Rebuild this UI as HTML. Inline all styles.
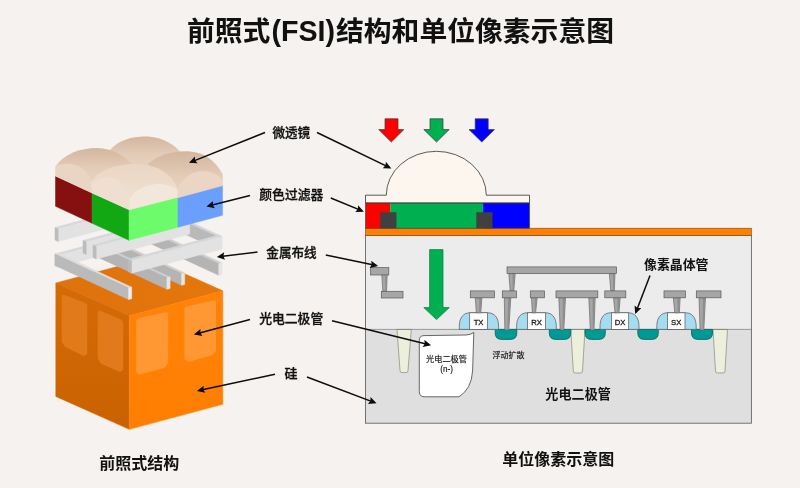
<!DOCTYPE html>
<html lang="zh-CN"><head><meta charset="utf-8"><title>前照式(FSI)结构和单位像素示意图</title>
<style>html,body{margin:0;padding:0;background:#f5f2ef;}body{width:800px;height:488px;overflow:hidden;font-family:"Liberation Sans", "Noto Sans CJK SC", sans-serif;}svg{display:block;will-change:transform;transform:translateZ(0)}</style>
</head><body>
<svg width="800" height="488" viewBox="0 0 800 488" font-family='&quot;Liberation Sans&quot;, &quot;Noto Sans CJK SC&quot;, sans-serif'>
<defs>
<marker id="ah" viewBox="0 0 10 10" refX="7.5" refY="5" markerWidth="9" markerHeight="7.8" markerUnits="userSpaceOnUse" orient="auto"><path d="M0,0.3 L10,5 L0,9.7 L1.6,5 Z" fill="#0d0d0d"/></marker>
<linearGradient id="gTop" x1="0" y1="0" x2="1" y2="0"><stop offset="0" stop-color="#de720d"/><stop offset="1" stop-color="#e5760a"/></linearGradient>
<linearGradient id="gLeft" x1="0" y1="0" x2="0" y2="1"><stop offset="0" stop-color="#d46b06"/><stop offset="1" stop-color="#ca6201"/></linearGradient>
<linearGradient id="gRight" x1="0" y1="0" x2="0" y2="1"><stop offset="0" stop-color="#ff8309"/><stop offset="1" stop-color="#ff7e00"/></linearGradient>
<linearGradient id="gLensD" x1="0" y1="0" x2="0" y2="1"><stop offset="0" stop-color="#d3b69e"/><stop offset="0.55" stop-color="#e4ccb7"/><stop offset="1" stop-color="#e8d3c0"/></linearGradient>
<linearGradient id="gLensF" x1="0" y1="0" x2="0" y2="1"><stop offset="0" stop-color="#ead6c4"/><stop offset="0.5" stop-color="#eedccc"/><stop offset="1" stop-color="#f0e0d2"/></linearGradient>
</defs>
<rect width="800" height="488" fill="#f5f2ef"/>
<text x="187" y="40.8" font-size="27.8" font-weight="700" text-anchor="start" fill="#111">前照式</text>
<text x="303.3" y="40.8" font-size="28.6" font-weight="700" text-anchor="middle" fill="#111">(FSI)</text>
<text x="614" y="40.8" font-size="27.8" font-weight="700" text-anchor="end" fill="#111">结构和单位像素示意图</text>
<polygon points="55.80,283.00 129.30,315.85 222.80,290.80 149.30,257.94" fill="url(#gTop)" stroke="url(#gTop)" stroke-width="0.5" stroke-linejoin="round" />
<polygon points="55.80,283.00 129.30,315.85 129.30,429.35 55.80,396.50" fill="url(#gLeft)" stroke="url(#gLeft)" stroke-width="0.5" stroke-linejoin="round" />
<polygon points="129.30,315.85 222.80,290.80 222.80,404.30 129.30,429.35" fill="url(#gRight)" stroke="url(#gRight)" stroke-width="0.5" stroke-linejoin="round" />
<path d="M61.70,297.00 Q61.70,294.00 64.51,295.06 L84.39,302.54 Q87.20,303.60 87.20,306.60 L87.20,354.10 L83.96,356.13 L64.94,346.87 L61.70,341.70 Z" fill="#e17a1a"/>
<path d="M97.70,312.70 Q97.70,309.70 100.46,310.87 L120.44,319.33 Q123.20,320.50 123.20,323.50 L123.20,369.90 L119.91,372.04 L100.99,363.66 L97.70,358.60 Z" fill="#e17a1a"/>
<path d="M136.20,321.70 Q136.20,318.70 139.13,318.04 L165.27,312.16 Q168.20,311.50 168.20,314.50 L168.20,363.10 L164.73,367.67 L139.67,374.73 L136.20,372.10 Z" fill="#ff9732"/>
<path d="M184.40,310.00 Q184.40,307.00 187.32,306.33 L212.98,300.47 Q215.90,299.80 215.90,302.80 L215.90,350.70 L212.43,355.25 L187.87,361.95 L184.40,359.30 Z" fill="#ff9732"/>
<polygon points="145.30,229.80 148.50,228.94 222.00,262.97 218.80,263.83" fill="#cfcfcf" stroke="#cfcfcf" stroke-width="0.5" stroke-linejoin="round" />
<polygon points="145.30,229.80 218.80,263.83 218.80,275.33 145.30,241.30" fill="#b4b4b4" stroke="#b4b4b4" stroke-width="0.5" stroke-linejoin="round" />
<polygon points="218.80,263.83 222.00,262.97 222.00,274.47 218.80,275.33" fill="#e6e6e6" stroke="#e6e6e6" stroke-width="0.5" stroke-linejoin="round" />
<polygon points="108.00,239.80 111.20,238.94 184.70,272.97 181.50,273.83" fill="#cfcfcf" stroke="#cfcfcf" stroke-width="0.5" stroke-linejoin="round" />
<polygon points="108.00,239.80 181.50,273.83 181.50,285.33 108.00,251.30" fill="#b4b4b4" stroke="#b4b4b4" stroke-width="0.5" stroke-linejoin="round" />
<polygon points="181.50,273.83 184.70,272.97 184.70,284.47 181.50,285.33" fill="#e6e6e6" stroke="#e6e6e6" stroke-width="0.5" stroke-linejoin="round" />
<polygon points="93.40,243.71 96.60,242.85 170.10,276.88 166.90,277.74" fill="#cfcfcf" stroke="#cfcfcf" stroke-width="0.5" stroke-linejoin="round" />
<polygon points="93.40,243.71 166.90,277.74 166.90,289.24 93.40,255.21" fill="#b4b4b4" stroke="#b4b4b4" stroke-width="0.5" stroke-linejoin="round" />
<polygon points="166.90,277.74 170.10,276.88 170.10,288.38 166.90,289.24" fill="#e6e6e6" stroke="#e6e6e6" stroke-width="0.5" stroke-linejoin="round" />
<polygon points="55.00,254.00 148.50,228.94 151.70,230.42 58.20,255.48" fill="#d6d6d6" stroke="#d6d6d6" stroke-width="0.5" stroke-linejoin="round" />
<polygon points="58.20,255.48 151.70,230.42 151.70,241.92 58.20,266.98" fill="#e2e2e2" stroke="#e2e2e2" stroke-width="0.5" stroke-linejoin="round" />
<polygon points="55.00,254.00 58.20,255.48 58.20,266.98 55.00,265.50" fill="#bcbcbc" stroke="#bcbcbc" stroke-width="0.5" stroke-linejoin="round" />
<polygon points="55.00,254.00 58.20,253.14 131.70,287.17 128.50,288.03" fill="#dedede" stroke="#dedede" stroke-width="0.5" stroke-linejoin="round" />
<polygon points="55.00,254.00 128.50,288.03 128.50,299.53 55.00,265.50" fill="#bababa" stroke="#bababa" stroke-width="0.5" stroke-linejoin="round" />
<polygon points="128.50,288.03 131.70,287.17 131.70,298.67 128.50,299.53" fill="#ededed" stroke="#ededed" stroke-width="0.5" stroke-linejoin="round" />
<polygon points="55.00,227.50 148.50,202.44 151.70,203.92 58.20,228.98" fill="#d6d6d6" stroke="#d6d6d6" stroke-width="0.5" stroke-linejoin="round" />
<polygon points="58.20,228.98 151.70,203.92 151.70,216.42 58.20,241.48" fill="#e2e2e2" stroke="#e2e2e2" stroke-width="0.5" stroke-linejoin="round" />
<polygon points="55.00,227.50 58.20,228.98 58.20,241.48 55.00,240.00" fill="#bcbcbc" stroke="#bcbcbc" stroke-width="0.5" stroke-linejoin="round" />
<polygon points="83.00,240.46 143.00,224.38 146.20,225.87 86.20,241.95" fill="#d6d6d6" stroke="#d6d6d6" stroke-width="0.5" stroke-linejoin="round" />
<polygon points="86.20,241.95 146.20,225.87 146.20,238.37 86.20,254.45" fill="#e2e2e2" stroke="#e2e2e2" stroke-width="0.5" stroke-linejoin="round" />
<polygon points="83.00,240.46 86.20,241.95 86.20,254.45 83.00,252.96" fill="#bcbcbc" stroke="#bcbcbc" stroke-width="0.5" stroke-linejoin="round" />
<polygon points="183.30,220.89 186.50,220.04 222.00,236.47 218.80,237.33" fill="#d4d4d4" stroke="#d4d4d4" stroke-width="0.5" stroke-linejoin="round" />
<polygon points="183.30,220.89 218.80,237.33 218.80,249.83 183.30,233.39" fill="#b9b9b9" stroke="#b9b9b9" stroke-width="0.5" stroke-linejoin="round" />
<polygon points="218.80,237.33 222.00,236.47 222.00,248.97 218.80,249.83" fill="#e6e6e6" stroke="#e6e6e6" stroke-width="0.5" stroke-linejoin="round" />
<polygon points="93.00,245.09 186.50,220.04 189.70,221.52 96.20,246.58" fill="#d6d6d6" stroke="#d6d6d6" stroke-width="0.5" stroke-linejoin="round" />
<polygon points="96.20,246.58 189.70,221.52 189.70,234.02 96.20,259.08" fill="#e2e2e2" stroke="#e2e2e2" stroke-width="0.5" stroke-linejoin="round" />
<polygon points="93.00,245.09 96.20,246.58 96.20,259.08 93.00,257.59" fill="#bcbcbc" stroke="#bcbcbc" stroke-width="0.5" stroke-linejoin="round" />
<polygon points="128.30,259.24 218.80,234.99 222.00,236.47 131.50,260.73" fill="#d6d6d6" stroke="#d6d6d6" stroke-width="0.5" stroke-linejoin="round" />
<polygon points="131.50,260.73 222.00,236.47 222.00,248.97 131.50,273.23" fill="#e2e2e2" stroke="#e2e2e2" stroke-width="0.5" stroke-linejoin="round" />
<polygon points="128.30,259.24 131.50,260.73 131.50,273.23 128.30,271.74" fill="#bcbcbc" stroke="#bcbcbc" stroke-width="0.5" stroke-linejoin="round" />
<polygon points="55.50,176.30 92.00,193.20 92.00,223.20 55.50,206.30" fill="#861010" stroke="#861010" stroke-width="0.5" stroke-linejoin="round" />
<polygon points="92.00,193.20 129.00,210.33 129.00,240.33 92.00,223.20" fill="#12a814" stroke="#12a814" stroke-width="0.5" stroke-linejoin="round" />
<polygon points="129.00,210.33 178.00,197.20 178.00,227.20 129.00,240.33" fill="#6bfb6b" stroke="#6bfb6b" stroke-width="0.5" stroke-linejoin="round" />
<polygon points="178.00,197.20 222.50,185.27 222.50,215.27 178.00,227.20" fill="#6a9eff" stroke="#6a9eff" stroke-width="0.5" stroke-linejoin="round" />
<polygon points="55.5,166.5 100,150 190,152 222.5,174 222.5,185.3 129.5,209.3 55.5,176.3" fill="#e7d1bd"/>
<path d="M110,150 C120,138.5 136,135.8 148,136.6 C163,137.6 175,144.5 183,155 L150,170 L110,160 Z" fill="url(#gLensD)"/>
<path d="M55.5,166.5 C64,154 80,148 97,148 C112,148.5 124,155 133,166 L107,184 L60,172 Z" fill="url(#gLensD)"/>
<path d="M148,164 C158,155 172,151 188,151.2 C204,152 215,160 222.5,174 L222.5,186 L178,198 L150,182 Z" fill="url(#gLensD)"/>
<path d="M55.5,176.3 L55.5,166.5 C60,163.5 70,162.5 78,166 C86,169.5 90,176 92,184 L92,193.2 Z" fill="#e9d5c3"/>
<path d="M177,197.4 L177.5,188 C182,179 191,172 201,171 C211,170.5 218,174 222.5,180 L222.5,185.3 Z" fill="#ead6c3"/>
<path d="M90.5,183 C96,172 112,164.5 134,164 C154,164 170,171 177.5,188 L176,198 L129.5,210 L92,193 Z" fill="url(#gLensF)"/>
<path d="M92,193.2 L92,184 C96,179.5 104,176 112,177.5 C121,180.5 127,188 129.5,198 L129.5,209.3 Z" fill="#efdfd0"/>
<path d="M129.5,209.3 L129.5,198 C135,190 146,184.6 157,184 C167,183.8 173,186 177.5,190 L177.5,197.2 Z" fill="#f3e7dc"/>
<rect x="365.5" y="235.3" width="385.90" height="94.1" fill="#ececec"/>
<rect x="365.5" y="329.4" width="385.90" height="93.8" fill="#dfdfdf"/>
<path d="M397,329.4 H411.3 L408,370.6 Q408,372.6 406,372.6 H402 Q400,372.6 400,370.6 Z" fill="#ebefdb" stroke="#85887a" stroke-width="0.7"/>
<path d="M570.8,329.4 H585 L582.5,371 Q582.5,373 580.5,373 H575.3 Q573.3,373 573.3,371 Z" fill="#ebefdb" stroke="#85887a" stroke-width="0.7"/>
<path d="M713,329.4 H727.5 L725,371 Q725,373 723,373 H717.5 Q715.5,373 715.5,371 Z" fill="#ebefdb" stroke="#85887a" stroke-width="0.7"/>
<line x1="365.5" y1="329.4" x2="751.4" y2="329.4" stroke="#777" stroke-width="0.7"/>
<path d="M495.2,329.4 H516.8 V332.9 Q516.8,339.4 510.29999999999995,339.4 H501.7 Q495.2,339.4 495.2,332.9 Z" fill="#009a94" stroke="#00615e" stroke-width="0.8"/>
<path d="M549.3,329.4 H570.8 V332.9 Q570.8,339.4 564.3,339.4 H555.8 Q549.3,339.4 549.3,332.9 Z" fill="#009a94" stroke="#00615e" stroke-width="0.8"/>
<path d="M585,329.4 H605.3 V332.9 Q605.3,339.4 598.8,339.4 H591.5 Q585,339.4 585,332.9 Z" fill="#009a94" stroke="#00615e" stroke-width="0.8"/>
<path d="M637.8,329.4 H658.3 V332.9 Q658.3,339.4 651.8,339.4 H644.3 Q637.8,339.4 637.8,332.9 Z" fill="#009a94" stroke="#00615e" stroke-width="0.8"/>
<path d="M691.5,329.4 H712.5 V332.9 Q712.5,339.4 706.0,339.4 H698.0 Q691.5,339.4 691.5,332.9 Z" fill="#009a94" stroke="#00615e" stroke-width="0.8"/>
<path d="M419.3,340.5 Q419.3,335.6 424,335.6 L466,335 Q471.5,334.6 473.8,332.4 L472.6,371 Q471.5,389 459,396.8 L424.5,396.8 Q419.3,396.8 419.3,391.5 Z" fill="#ffffff" stroke="#444" stroke-width="0.8"/>
<rect x="365.5" y="235.3" width="385.90" height="187.9" fill="none" stroke="#666" stroke-width="0.9"/>
<rect x="365.5" y="228.2" width="385.90" height="7.1" fill="#ff8000" stroke="#7a4a10" stroke-width="0.6"/>
<rect x="365.5" y="203" width="24.7" height="25.2" fill="#ff0000"/>
<rect x="390.2" y="203" width="92.9" height="25.2" fill="#00b050"/>
<rect x="483.1" y="203" width="46.4" height="25.2" fill="#0000ff"/>
<rect x="365.5" y="203" width="164" height="25.2" fill="none" stroke="#444" stroke-width="0.7"/>
<rect x="380.2" y="212.2" width="16.2" height="16" fill="#404040"/>
<rect x="476.3" y="212.2" width="16.2" height="16" fill="#404040"/>
<path d="M365.5,202.8 V195.2 H386.3 A50,43.9 0 0 1 486.3,195.2 H529.5 V202.8 Z" fill="#fdf6ee" stroke="#333" stroke-width="0.8"/>
<path d="M385,118.8 H398 V129.6 H403.8 L391.3,142 L378.8,129.6 H385 Z" fill="#ff0000" stroke="#3a3a3a" stroke-width="0.7" stroke-linejoin="miter"/>
<path d="M430,118.8 H443 V129.6 H449.2 L436.5,142 L423.8,129.6 H430 Z" fill="#00b050" stroke="#3a3a3a" stroke-width="0.7" stroke-linejoin="miter"/>
<path d="M475.2,118.8 H488.2 V129.6 H494.5 L481.75,142 L469,129.6 H475.2 Z" fill="#0000ff" stroke="#3a3a3a" stroke-width="0.7" stroke-linejoin="miter"/>
<path d="M429.6,249.6 H443 V307.6 H449.3 L436.55,319.6 L423.8,307.6 H429.6 Z" fill="#00b050" stroke="#0a7a3a" stroke-width="0.7" stroke-linejoin="miter"/>
<rect x="370.6" y="267.6" width="18.20" height="7.40" fill="#a6a6a6" stroke="#5a5a5a" stroke-width="0.7"/>
<polygon points="381.8,275 387.2,275 386.6,291.3 382.8,291.3" fill="#a6a6a6" stroke="#5a5a5a" stroke-width="0.6"/>
<polygon points="385.10,275 386.8,275 386.3,291.3 385.30,291.3" fill="#8e8e8e"/>
<rect x="381.3" y="291.3" width="21.70" height="6.70" fill="#a6a6a6" stroke="#5a5a5a" stroke-width="0.7"/>
<polygon points="504.3,297.8 510.8,297.8 508.8,330 504.8,330" fill="#a6a6a6" stroke="#5a5a5a" stroke-width="0.6"/>
<polygon points="508.15,297.8 510.40000000000003,297.8 508.5,330 507.40,330" fill="#8e8e8e"/>
<polygon points="558.8,297.8 565.5,297.8 563.8,330 560.2,330" fill="#a6a6a6" stroke="#5a5a5a" stroke-width="0.6"/>
<polygon points="562.75,297.8 565.1,297.8 563.5,330 562.60,330" fill="#8e8e8e"/>
<polygon points="588.8,297.8 595.2,297.8 594,330 590.3,330" fill="#a6a6a6" stroke="#5a5a5a" stroke-width="0.6"/>
<polygon points="592.60,297.8 594.8000000000001,297.8 593.7,330 592.75,330" fill="#8e8e8e"/>
<polygon points="699,297.8 705.5,297.8 703.8,330 700,330" fill="#a6a6a6" stroke="#5a5a5a" stroke-width="0.6"/>
<polygon points="702.85,297.8 705.1,297.8 703.5,330 702.50,330" fill="#8e8e8e"/>
<path d="M459.3,329.4 V326.4 C459.3,317.3 463.8,312.8 469.8,312.8 H488.1 C494.1,312.8 498.6,317.3 498.6,326.4 V329.4 Z" fill="#a6dcef" stroke="#555" stroke-width="0.7"/>
<rect x="469.7" y="312.8" width="17.80" height="16.60" fill="#ffffff" stroke="#555" stroke-width="0.7"/>
<text x="478.60" y="325.3" font-size="7.7" text-anchor="middle" fill="#1a1a1a" stroke="#1a1a1a" stroke-width="0.3" font-weight="400">TX</text>
<path d="M516.6,329.4 V326.4 C516.6,317.3 521.1,312.8 527.1,312.8 H545.8 C551.8,312.8 556.3,317.3 556.3,326.4 V329.4 Z" fill="#a6dcef" stroke="#555" stroke-width="0.7"/>
<rect x="527.5" y="312.8" width="18.00" height="16.60" fill="#ffffff" stroke="#555" stroke-width="0.7"/>
<text x="536.50" y="325.3" font-size="7.7" text-anchor="middle" fill="#1a1a1a" stroke="#1a1a1a" stroke-width="0.3" font-weight="400">RX</text>
<path d="M600,329.4 V326.4 C600,317.3 604.5,312.8 610.5,312.8 H628.5 C634.5,312.8 639,317.3 639,326.4 V329.4 Z" fill="#a6dcef" stroke="#555" stroke-width="0.7"/>
<rect x="611.4" y="312.8" width="17.30" height="16.60" fill="#ffffff" stroke="#555" stroke-width="0.7"/>
<text x="620.05" y="325.3" font-size="7.7" text-anchor="middle" fill="#1a1a1a" stroke="#1a1a1a" stroke-width="0.3" font-weight="400">DX</text>
<path d="M656.8,329.4 V326.4 C656.8,317.3 661.3,312.8 667.3,312.8 H685.7 C691.7,312.8 696.2,317.3 696.2,326.4 V329.4 Z" fill="#a6dcef" stroke="#555" stroke-width="0.7"/>
<rect x="667.5" y="312.8" width="17.50" height="16.60" fill="#ffffff" stroke="#555" stroke-width="0.7"/>
<text x="676.25" y="325.3" font-size="7.7" text-anchor="middle" fill="#1a1a1a" stroke="#1a1a1a" stroke-width="0.3" font-weight="400">SX</text>
<polygon points="475.3,297.8 481.9,297.8 480.8,312.8 476.3,312.8" fill="#a6a6a6" stroke="#5a5a5a" stroke-width="0.6"/>
<polygon points="479.20,297.8 481.5,297.8 480.5,312.8 479.15,312.8" fill="#8e8e8e"/>
<polygon points="531.5,297.8 537.2,297.8 535.6,312.8 532.3,312.8" fill="#a6a6a6" stroke="#5a5a5a" stroke-width="0.6"/>
<polygon points="534.95,297.8 536.8000000000001,297.8 535.3000000000001,312.8 534.55,312.8" fill="#8e8e8e"/>
<polygon points="613.5,297.8 620.2,297.8 619,312.8 615,312.8" fill="#a6a6a6" stroke="#5a5a5a" stroke-width="0.6"/>
<polygon points="617.45,297.8 619.8000000000001,297.8 618.7,312.8 617.60,312.8" fill="#8e8e8e"/>
<polygon points="673.3,297.8 680.2,297.8 679.3,312.8 674.8,312.8" fill="#a6a6a6" stroke="#5a5a5a" stroke-width="0.6"/>
<polygon points="677.35,297.8 679.8000000000001,297.8 679.0,312.8 677.65,312.8" fill="#8e8e8e"/>
<polygon points="508.8,273.6 515.2,273.6 513.8,290.9 510.2,290.9" fill="#a6a6a6" stroke="#5a5a5a" stroke-width="0.6"/>
<polygon points="512.60,273.6 514.8000000000001,273.6 513.5,290.9 512.60,290.9" fill="#8e8e8e"/>
<polygon points="609.3,273.6 615,273.6 614.3,290.9 610.8,290.9" fill="#a6a6a6" stroke="#5a5a5a" stroke-width="0.6"/>
<polygon points="612.75,273.6 614.6,273.6 614.0,290.9 613.15,290.9" fill="#8e8e8e"/>
<rect x="470.3" y="290.9" width="24.20" height="6.90" fill="#a6a6a6" stroke="#5a5a5a" stroke-width="0.7"/>
<rect x="502.3" y="290.9" width="14.20" height="6.90" fill="#a6a6a6" stroke="#5a5a5a" stroke-width="0.7"/>
<rect x="530.3" y="290.9" width="14.20" height="6.90" fill="#a6a6a6" stroke="#5a5a5a" stroke-width="0.7"/>
<rect x="556" y="290.9" width="41.80" height="6.90" fill="#a6a6a6" stroke="#5a5a5a" stroke-width="0.7"/>
<rect x="604.8" y="290.9" width="21.00" height="6.90" fill="#a6a6a6" stroke="#5a5a5a" stroke-width="0.7"/>
<rect x="664" y="290.9" width="21.50" height="6.90" fill="#a6a6a6" stroke="#5a5a5a" stroke-width="0.7"/>
<rect x="696.3" y="290.9" width="24.70" height="6.90" fill="#a6a6a6" stroke="#5a5a5a" stroke-width="0.7"/>
<rect x="507" y="266.9" width="109.50" height="6.70" fill="#a6a6a6" stroke="#5a5a5a" stroke-width="0.7"/>
<text x="291.3" y="137" font-size="12.6" font-weight="500" text-anchor="middle" fill="#111" stroke="#111" stroke-width="0.3">微透镜</text>
<text x="291.3" y="199.3" font-size="12.8" font-weight="500" text-anchor="middle" fill="#111" stroke="#111" stroke-width="0.3">颜色过滤器</text>
<text x="291.5" y="257" font-size="12.6" font-weight="500" text-anchor="middle" fill="#111" stroke="#111" stroke-width="0.3">金属布线</text>
<text x="291.2" y="322.7" font-size="12.8" font-weight="500" text-anchor="middle" fill="#111" stroke="#111" stroke-width="0.3">光电二极管</text>
<text x="291" y="378.2" font-size="13" font-weight="500" text-anchor="middle" fill="#111" stroke="#111" stroke-width="0.3">硅</text>
<text x="676.3" y="268.5" font-size="12.9" font-weight="700" text-anchor="middle" fill="#111">像素晶体管</text>
<text x="578.1" y="399.2" font-size="13.1" font-weight="700" text-anchor="middle" fill="#111">光电二极管</text>
<text x="446.5" y="362.3" font-size="8.2" font-weight="400" text-anchor="middle" fill="#111" stroke="#111" stroke-width="0.15">光电二极管</text>
<text x="446.6" y="371.6" font-size="8.2" font-weight="400" text-anchor="middle" fill="#111" stroke="#111" stroke-width="0.12">(n-)</text>
<text x="508.4" y="358.4" font-size="8" font-weight="400" text-anchor="middle" fill="#111" stroke="#111" stroke-width="0.15">浮动扩散</text>
<text x="139.3" y="468.6" font-size="16" font-weight="700" text-anchor="middle" fill="#111">前照式结构</text>
<text x="558.2" y="465.4" font-size="16" font-weight="700" text-anchor="middle" fill="#111">单位像素示意图</text>
<line x1="265.0" y1="132.5" x2="190.8" y2="162.1" stroke="#0d0d0d" stroke-width="1.5" marker-end="url(#ah)"/>
<line x1="317.0" y1="132.5" x2="389.6" y2="167.6" stroke="#0d0d0d" stroke-width="1.5" marker-end="url(#ah)"/>
<line x1="250.0" y1="195.5" x2="208.3" y2="206.1" stroke="#0d0d0d" stroke-width="1.5" marker-end="url(#ah)"/>
<line x1="330.8" y1="198.0" x2="362.1" y2="210.9" stroke="#0d0d0d" stroke-width="1.5" marker-end="url(#ah)"/>
<line x1="257.5" y1="252.0" x2="218.8" y2="256.7" stroke="#0d0d0d" stroke-width="1.5" marker-end="url(#ah)"/>
<line x1="325.8" y1="255.0" x2="376.2" y2="265.5" stroke="#0d0d0d" stroke-width="1.5" marker-end="url(#ah)"/>
<line x1="250.0" y1="319.5" x2="195.8" y2="334.0" stroke="#0d0d0d" stroke-width="1.5" marker-end="url(#ah)"/>
<line x1="332.0" y1="320.8" x2="429.2" y2="344.8" stroke="#0d0d0d" stroke-width="1.5" marker-end="url(#ah)"/>
<line x1="275.0" y1="374.3" x2="198.8" y2="390.5" stroke="#0d0d0d" stroke-width="1.5" marker-end="url(#ah)"/>
<line x1="307.0" y1="377.0" x2="374.7" y2="402.6" stroke="#0d0d0d" stroke-width="1.5" marker-end="url(#ah)"/>
<line x1="650.0" y1="275.5" x2="635.9" y2="312.2" stroke="#0d0d0d" stroke-width="1.5" marker-end="url(#ah)"/>
</svg>
</body></html>
